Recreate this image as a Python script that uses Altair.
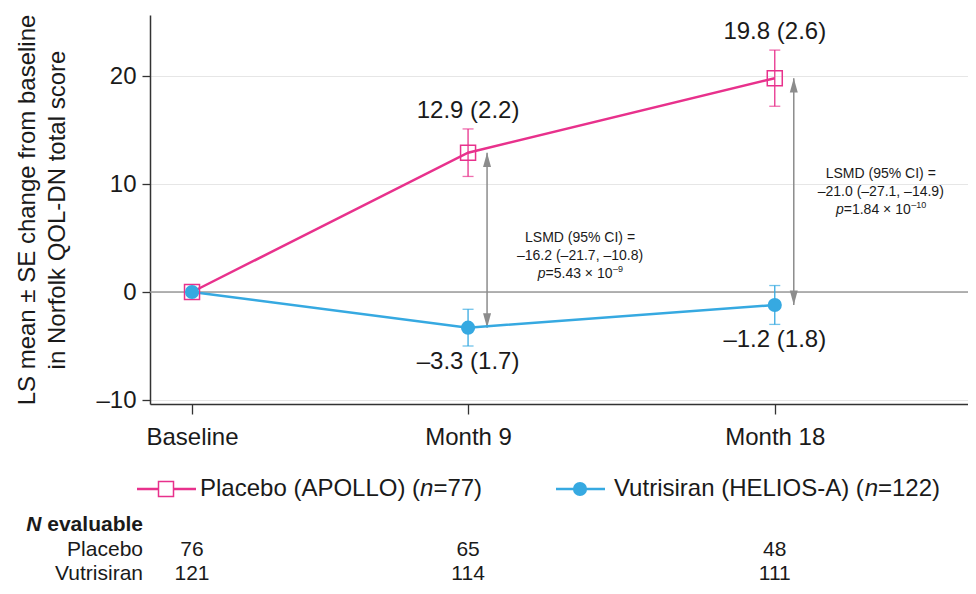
import altair as alt
import pandas as pd

# ---------------- data ----------------
timepoints = ["Baseline", "Month 9", "Month 18"]
x_pos = [0, 9, 19]                      # horizontal position of each visit on the axis
groups = ["Placebo (APOLLO)", "Vutrisiran (HELIOS-A)"]
group_n = [77, 122]
colors = ["#E8318C", "#36A9E1"]
placebo_mean = [0.0, 12.9, 19.8]
placebo_se = [0.0, 2.2, 2.6]
vutri_mean = [0.0, -3.3, -1.2]
vutri_se = [0.0, 1.7, 1.8]
lsmd_visits = ["Month 9", "Month 18"]
lsmd_est = ["–16.2 (–21.7, –10.8)", "–21.0 (–27.1, –14.9)"]
lsmd_p = ["=5.43 × 10", "=1.84 × 10"]
lsmd_p_exp = ["–9", "–10"]
n_rows = ["Placebo", "Vutrisiran"]
n_placebo = [76, 65, 48]
n_vutri = [121, 114, 111]
y_ticks = [-10, 0, 10, 20]
y_title = ["LS mean ± SE change from baseline", "in Norfolk QOL-DN total score"]

FONT = "Liberation Sans"
W, H = 818, 389
DASH = "–"
TXT = "#1a1a1a"
GRAY = "#8c8c8c"


def fmt(v):
    return f"{v:.1f}".replace("-", DASH)


rows = []
for g, means, ses in [(groups[0], placebo_mean, placebo_se), (groups[1], vutri_mean, vutri_se)]:
    for t, x, m, s in zip(timepoints, x_pos, means, ses):
        rows.append({"group": g, "time": t, "x": x, "mean": m, "se": s,
                     "lo": m - s, "hi": m + s, "label": f"{fmt(m)} ({fmt(s)})"})
df = pd.DataFrame(rows)

arrows = []
for v, e, p, pe in zip(lsmd_visits, lsmd_est, lsmd_p, lsmd_p_exp):
    i = timepoints.index(v)
    arrows.append({"visit": v, "x": x_pos[i], "top": placebo_mean[i], "bot": vutri_mean[i],
                   "mid": (placebo_mean[i] + vutri_mean[i]) / 2,
                   "l1": "LSMD (95% CI) =", "l2": e, "p": p, "pe": pe})
adf = pd.DataFrame(arrows)

ndf = pd.DataFrame({"x": x_pos, "placebo": n_placebo, "vutri": n_vutri})

# ---------------- scales / axes ----------------
xs = alt.Scale(domain=[-1.37, 25.3], nice=False, zero=False)
ys = alt.Scale(domain=[-10.37, 25.65], nice=False, zero=False)
cs = alt.Scale(domain=groups, range=colors)

label_expr = " : ".join(
    [f"datum.value == {x} ? '{t}'" for x, t in zip(x_pos[:-1], timepoints[:-1])] + [f"'{timepoints[-1]}'"]
)
x_axis = alt.Axis(values=x_pos, labelExpr=label_expr, title=None, grid=False, tickSize=10,
                  labelFontSize=24, labelPadding=11, domainColor="#333", tickColor="#333",
                  labelColor=TXT, domainWidth=1.5, tickWidth=1.3, labelFlush=False)
y_axis = alt.Axis(values=y_ticks, labelExpr="datum.value < 0 ? '–' + abs(datum.value) : datum.label",
                  title=y_title, grid=True, gridColor="#e6e6e6", gridWidth=1.2, tickSize=8,
                  labelFontSize=24, labelPadding=6, titleFontSize=24, titleFontWeight="normal",
                  titlePadding=26, titleLineHeight=30, titleColor=TXT, labelColor=TXT,
                  domainColor="#333", tickColor="#333", domainWidth=1.5, tickWidth=1.3)


def X(f):
    return alt.X(f"{f}:Q", scale=xs, axis=x_axis)


def Y(f):
    return alt.Y(f"{f}:Q", scale=ys, axis=y_axis)


C = alt.Color("group:N", scale=cs, legend=None)

base = alt.Chart(df)

zero_rule = alt.Chart(pd.DataFrame({"z": [0]})).mark_rule(color="#9a9a9a", strokeWidth=1.3).encode(
    y=Y("z"), x=alt.value(0), x2=alt.value(W))

# arrows
ar = alt.Chart(adf)
arrow_rule = ar.mark_rule(color=GRAY, strokeWidth=1.5, xOffset=19).encode(
    x=X("x"), y=Y("top"), y2="bot:Q")
arrow_up = ar.mark_point(shape="M0,-1L0.5,0.8L-0.5,0.8Z", filled=True, size=256, color=GRAY,
                         opacity=1, xOffset=19, yOffset=8).encode(x=X("x"), y=Y("top"))
arrow_dn = ar.mark_point(shape="M0,1L0.5,-0.8L-0.5,-0.8Z", filled=True, size=256, color=GRAY,
                         opacity=1, xOffset=19, yOffset=-8).encode(x=X("x"), y=Y("bot"))

# error bars
eb = base.transform_filter("datum.se > 0")
err_rule = eb.mark_rule(strokeWidth=1.3).encode(x=X("x"), y=Y("lo"), y2="hi:Q", color=C)
cap_lo = eb.mark_tick(orient="horizontal", size=11, thickness=1.3).encode(x=X("x"), y=Y("lo"), color=C)
cap_hi = eb.mark_tick(orient="horizontal", size=11, thickness=1.3).encode(x=X("x"), y=Y("hi"), color=C)

lines = base.mark_line(strokeWidth=2.5).encode(x=X("x"), y=Y("mean"), color=C, detail="group:N")

sq = base.transform_filter(f"datum.group == '{groups[0]}'").mark_point(
    shape="square", filled=False, size=225, strokeWidth=1.5, opacity=1).encode(
    x=X("x"), y=Y("mean"), color=C)
circ = base.transform_filter(f"datum.group == '{groups[1]}'").mark_circle(
    size=200, opacity=1).encode(x=X("x"), y=Y("mean"), color=C)

lab = base.transform_filter("datum.se > 0")
lab_p = lab.transform_filter(f"datum.group == '{groups[0]}'").mark_text(
    fontSize=24, dy=-18, baseline="middle", color=TXT, font=FONT).encode(
    x=X("x"), y=Y("hi"), text="label:N")
lab_v = lab.transform_filter(f"datum.group == '{groups[1]}'").mark_text(
    fontSize=24, dy=16, baseline="middle", color=TXT, font=FONT).encode(
    x=X("x"), y=Y("lo"), text="label:N")


# LSMD annotation boxes
def box(visit, dx, dy, panchor):
    d = ar.transform_filter(f"datum.visit == '{visit}'")
    common = dict(fontSize=14, color=TXT, font=FONT, baseline="middle")
    l1 = d.mark_text(dx=dx, dy=dy - 18, align="center", **common).encode(x=X("x"), y=Y("mid"), text="l1:N")
    l2 = d.mark_text(dx=dx, dy=dy, align="center", **common).encode(x=X("x"), y=Y("mid"), text="l2:N")
    pi = d.mark_text(dx=dx + panchor, dy=dy + 18, align="right", fontStyle="italic", **common).encode(
        x=X("x"), y=Y("mid"), text=alt.value("p"))
    pv = d.mark_text(dx=dx + panchor, dy=dy + 18, align="left", **common).encode(
        x=X("x"), y=Y("mid"), text="p:N")
    pe = d.mark_text(dx=dx + panchor + 67.5, dy=dy + 13, align="left", fontSize=9, color=TXT,
                     font=FONT, baseline="middle").encode(x=X("x"), y=Y("mid"), text="pe:N")
    return [l1, l2, pi, pv, pe]


boxes = box(lsmd_visits[0], 112, 16, -34.5) + box(lsmd_visits[1], 106, 0, -37)

# manual legend (needs italic n)
LY = 474
one = pd.DataFrame({"k": [0]})
leg = []
leg_specs = [
    (groups[0], group_n[0], -13, 46, 16, 50, 220.1),
    (groups[1], group_n[1], 406, 455, 430, 464, 250.7),
]
for g, n, x1, x2, xm, xt, w1 in leg_specs:
    ld = alt.Chart(pd.DataFrame({"group": [g], "n": [f"={n})"], "t": [g + " ("]}))
    leg.append(ld.mark_rule(strokeWidth=2.5).encode(x=alt.value(x1), x2=alt.value(x2), y=alt.value(LY), color=C))
    if g == groups[0]:
        leg.append(ld.mark_point(shape="square", filled=False, size=225, strokeWidth=1.5, opacity=1, fill="white").encode(
            x=alt.value(xm), y=alt.value(LY), color=C))
    else:
        leg.append(ld.mark_circle(size=200, opacity=1).encode(x=alt.value(xm), y=alt.value(LY), color=C))
    tc = dict(fontSize=24, font=FONT, color=TXT, baseline="middle", align="left")
    leg.append(ld.mark_text(**tc).encode(x=alt.value(xt), y=alt.value(LY), text="t:N"))
    leg.append(ld.mark_text(fontStyle="italic", **tc).encode(x=alt.value(xt + w1), y=alt.value(LY), text=alt.value("n")))
    leg.append(ld.mark_text(**tc).encode(x=alt.value(xt + w1 + 13.3), y=alt.value(LY), text="n:N"))

# N evaluable table
T0, T1, T2 = 510, 535, 559
tbl = []
hc = dict(fontSize=21, font=FONT, color=TXT, baseline="middle", align="right", fontWeight="bold")
oc = alt.Chart(one)
tbl.append(oc.mark_text(**hc).encode(x=alt.value(-7), y=alt.value(T0), text=alt.value("evaluable")))
tbl.append(oc.mark_text(fontStyle="italic", **hc).encode(x=alt.value(-108.5), y=alt.value(T0), text=alt.value("N")))
rc = dict(fontSize=21, font=FONT, color=TXT, baseline="middle")
for name, yy in zip(n_rows, [T1, T2]):
    tbl.append(oc.mark_text(align="right", **rc).encode(x=alt.value(-7), y=alt.value(yy), text=alt.value(name)))
nd = alt.Chart(ndf)
tbl.append(nd.mark_text(align="center", **rc).encode(x=X("x"), y=alt.value(T1), text="placebo:Q"))
tbl.append(nd.mark_text(align="center", **rc).encode(x=X("x"), y=alt.value(T2), text="vutri:Q"))

chart = alt.layer(
    zero_rule, arrow_rule, arrow_up, arrow_dn, err_rule, cap_lo, cap_hi, lines, sq, circ,
    lab_p, lab_v, *boxes, *leg, *tbl
).properties(
    width=W, height=H,
    autosize=alt.AutoSizeParams(type="none"),
    padding={"left": 142, "top": 7, "right": 0, "bottom": 182},
).configure(font=FONT).configure_view(stroke=None)

chart.save("out.html", embed_options={"renderer": "svg", "actions": False})
